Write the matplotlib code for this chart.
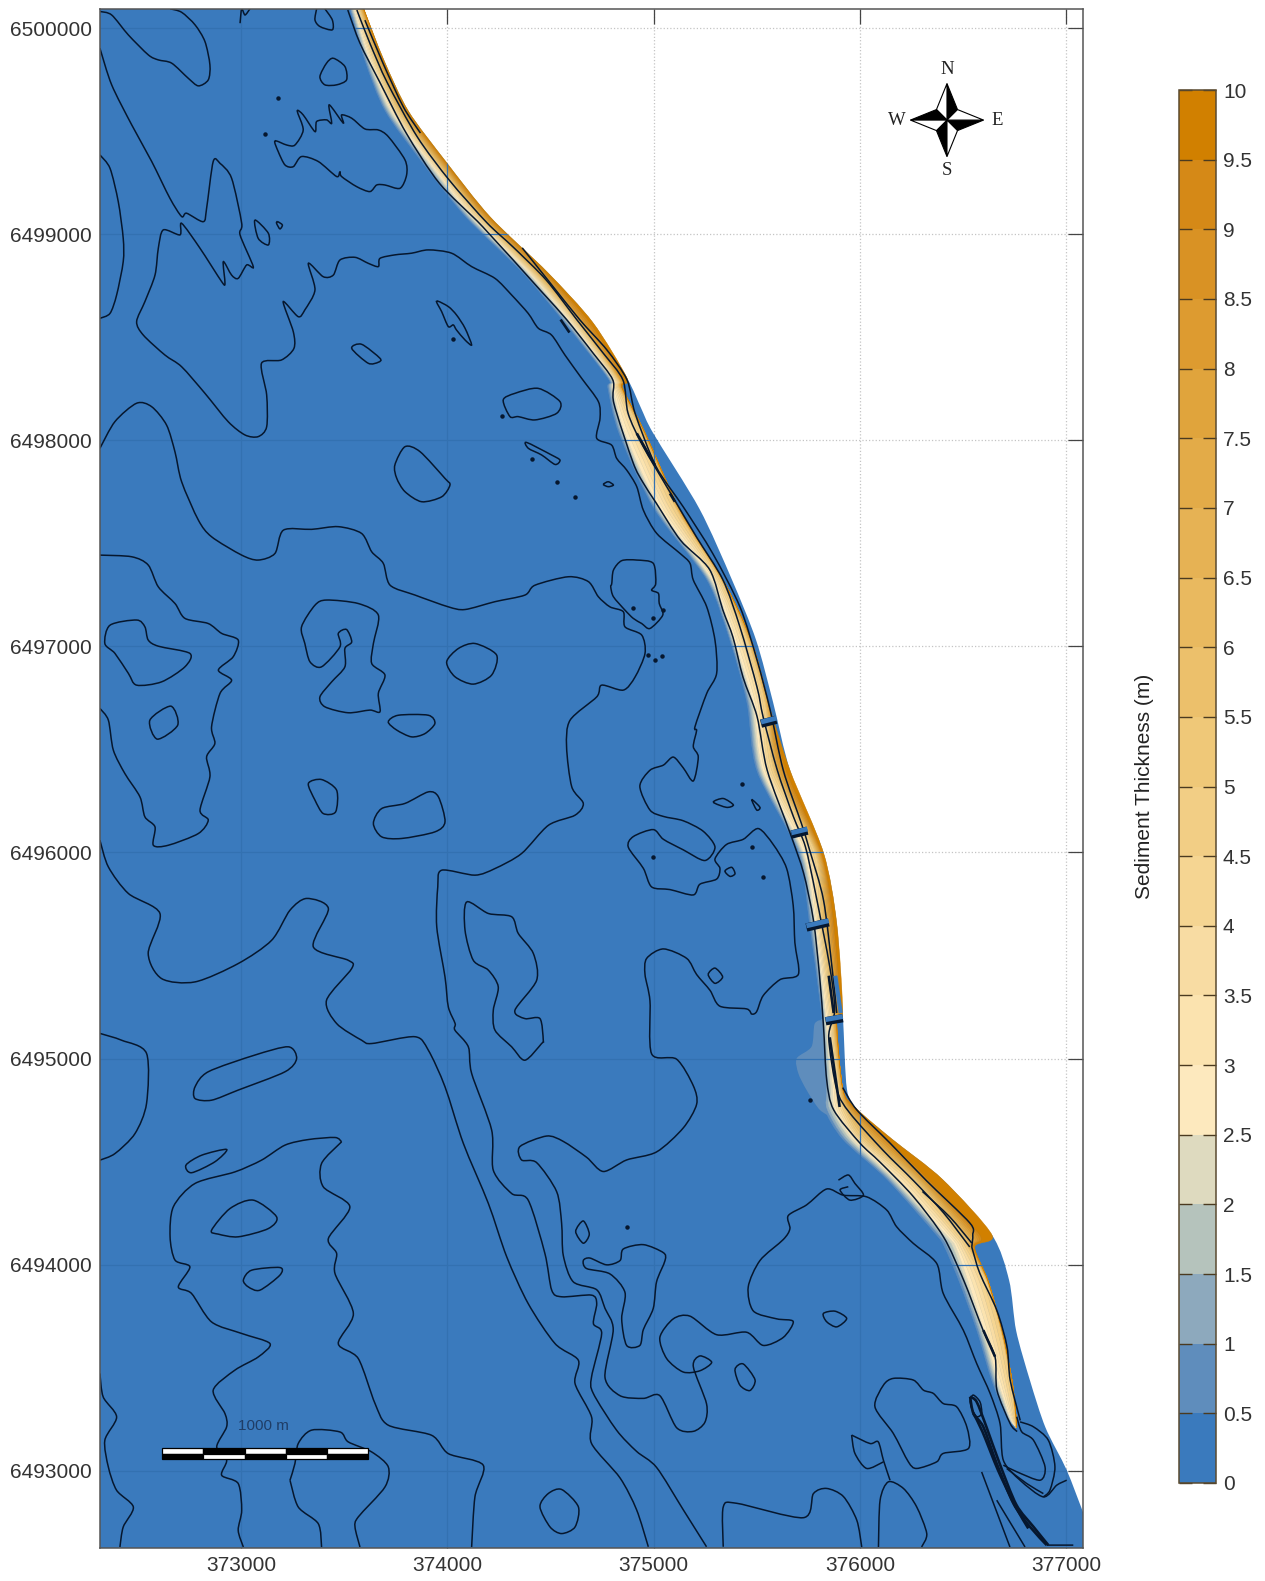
import numpy as np
from matplotlib import pyplot as plt
from matplotlib.colors import BoundaryNorm, ListedColormap
from matplotlib.cm import ScalarMappable
from matplotlib.patches import PathPatch, Polygon, Rectangle
from matplotlib.path import Path

plt.rcParams['font.family'] = ['Liberation Sans', 'DejaVu Sans']

# map coordinates below are metres east of E0 / north of N0
E0 = 372000
N0 = 6490000

x_ticks = [373000, 374000, 375000, 376000, 377000]
y_ticks = [6493000, 6494000, 6495000, 6496000, 6497000, 6498000, 6499000, 6500000]

cbar_levels = [0, 0.5, 1, 1.5, 2, 2.5, 3, 3.5, 4, 4.5, 5, 5.5, 6, 6.5, 7, 7.5, 8, 8.5, 9, 9.5, 10]
cbar_labels = ['0', '0.5', '1', '1.5', '2', '2.5', '3', '3.5', '4', '4.5', '5', '5.5', '6', '6.5',
               '7', '7.5', '8', '8.5', '9', '9.5', '10']
cbar_colors = ['#3A7ABD', '#5F8DBC', '#8DA9BD', '#B5C3BC', '#DEDABF', '#FDE9BE', '#FBE3AF', '#F8DCA3',
               '#F5D592', '#F2CE85', '#EFC878', '#ECC06B', '#E9B95F', '#E6B254', '#E3AB48', '#E0A43C',
               '#DD9B30', '#D99224', '#D58917', '#D18000']

# model domain, east side follows the shoreline
coast = [(1596, 10093), (1694, 9843), (1811, 9599), (1992, 9354), (2207, 9085), (2485, 8816), (2705, 8572),
         (2871, 8302), (2939, 8156), (2998, 8034), (3222, 7667), (3379, 7324), (3496, 7031), (3579, 6727),
         (3662, 6395), (3823, 5998), (3887, 5656), (3916, 5220), (3936, 4854), (3984, 4756), (4155, 4609),
         (4400, 4413), (4639, 4144), (4722, 3924), (4756, 3680), (4824, 3435), (4898, 3210), (5000, 3005),
         (5080, 2799)]
domain_corners = [(5080, 2625), (317, 2625), (317, 10093)]

# sediment band edges along the shore, thickness 0.5, 2.5, 5, 8, 9.5, 10 m
band_levels = [0.5, 2.5, 5, 8, 9.5, 10]
band_n = [10093, 9843, 9599, 9354, 9085, 8816, 8572, 8302, 8254, 8034, 7667, 7324, 7031, 6727, 6395, 5998, 5656,
          5220, 5172, 4854, 4756, 4609, 4413, 4144, 4086, 3924, 3680, 3435, 3259, 3210]
band_05 = [1528, 1601, 1699, 1875, 2089, 2363, 2568, 2778, 2778, 2832, 3003, 3257, 3369, 3452, 3501, 3701, 3755,
           3813, 3813, 3828, 3828, 3916, 4131, 4370, 4409, 4478, 4566, 4639, 4712, 4756]
band_25 = [1547, 1625, 1728, 1909, 2119, 2392, 2597, 2798, 2803, 2861, 3032, 3281, 3389, 3481, 3530, 3726, 3784,
           3833, 3838, 3867, 3877, 3965, 4170, 4419, 4463, 4522, 4600, 4668, 4727, 4756]
band_50 = [1577, 1655, 1762, 1943, 2158, 2422, 2631, 2822, 2832, 2945, 3110, 3325, 3455, 3540, 3584, 3784, 3813,
           3867, 3867, 3901, 3926, 4014, 4258, 4483, 4522, 4612, 4682, 4730, 4752, 4756]
band_80 = [1591, 1679, 1791, 1972, 2182, 2451, 2656, 2837, 2847, 2959, 3125, 3335, 3472, 3555, 3613, 3804, 3853,
           3887, 3882, 3916, 3955, 4092, 4302, 4546, 4541, 4619, 4688, 4737, 4756, 4756]
band_95 = [1596, 1689, 1806, 1987, 2202, 2475, 2690, 2856, 2847, 2959, 3125, 3335, 3472, 3555, 3643, 3813, 3872,
           3906, 3887, 3916, 3975, 4131, 4331, 4580, 4551, 4619, 4688, 4737, 4756, 4756]
band_100 = [1596, 1694, 1811, 1992, 2207, 2485, 2705, 2871, 2851, 2959, 3125, 3335, 3472, 3555, 3662, 3823, 3887,
            3916, 3887, 3916, 3984, 4155, 4400, 4639, 4556, 4619, 4688, 4737, 4756, 4756]

# pale plume by the big groin
plume = [(3693, 5001), (3765, 5058), (3781, 5171), (3830, 5155), (3846, 4831), (3878, 4718), (3806, 4750),
         (3741, 4847), (3701, 4928), (3693, 5001)]

# contours near the shore
shore_1 = [(1518, 10088), (1577, 9927), (1674, 9736), (1801, 9491), (1962, 9247), (2172, 9036), (2451, 8728),
           (2578, 8586), (2705, 8425), (2802, 8293), (2807, 8180), (2900, 7892), (2949, 7794), (3012, 7696),
           (3130, 7515), (3271, 7373), (3335, 7177), (3384, 7045), (3433, 6850), (3501, 6659), (3550, 6399),
           (3662, 6091), (3726, 5901), (3774, 5671), (3804, 5397), (3823, 5152), (3838, 4898), (3872, 4751),
           (4000, 4589), (4097, 4497), (4258, 4330), (4404, 4135), (4502, 3924), (4595, 3684), (4654, 3552),
           (4663, 3391), (4727, 3229), (4761, 3190)]
shore_2 = [(1562, 10088), (1625, 9927), (1709, 9736), (1855, 9472), (2011, 9261), (2192, 9056), (2319, 8938),
           (2480, 8777), (2627, 8586), (2754, 8425), (2851, 8293), (2876, 8131), (2949, 7970), (3081, 7745),
           (3208, 7530), (3335, 7324), (3418, 7094), (3501, 6801), (3530, 6659), (3599, 6399), (3677, 6174),
           (3735, 6028), (3784, 5803), (3853, 5446), (3877, 5235), (3848, 5103), (3887, 4849), (3950, 4736),
           (4111, 4555), (4258, 4408), (4404, 4252), (4531, 4086)]
shore_3 = [(1601, 10039), (1689, 9829), (1787, 9618), (1870, 9491)]
shore_4 = [(2363, 8934), (2500, 8762), (2641, 8586), (2773, 8439), (2871, 8293), (2910, 8131), (3012, 7872),
           (3144, 7676), (3286, 7451), (3418, 7192), (3501, 6933), (3564, 6693), (3628, 6399), (3716, 6140),
           (3755, 6013), (3823, 5768), (3867, 5416), (3887, 5221)]
shore_5 = [(3916, 4859), (3984, 4751), (4146, 4589), (4321, 4408), (4531, 4203), (4546, 4144), (4541, 4086)]
shore_6 = [(4541, 4086), (4580, 3958), (4663, 3777), (4712, 3601), (4727, 3440), (4776, 3244)]
shore_7 = [(4302, 4355), (4434, 4232), (4541, 4105)]

# offshore contours, north west part
wedge_nw = [(317, 10081), (374, 10064), (455, 9967), (552, 9870), (600, 9846), (665, 9830), (745, 9757), (794, 9720),
            (842, 9749), (850, 9822), (826, 9935), (778, 10016), (713, 10077), (657, 10094)]
long_north = [(317, 9903), (374, 9725), (471, 9531), (568, 9353), (656, 9175), (713, 9086), (737, 9102), (818, 9061),
              (834, 9126), (866, 9353), (899, 9344), (955, 9272), (1004, 9053), (996, 8997), (1060, 8843),
              (1028, 8851), (987, 8786), (955, 8802), (915, 8867), (923, 8762), (907, 8770), (802, 8932), (713, 9053),
              (705, 8997), (624, 9021), (600, 8932), (584, 8802), (535, 8673), (495, 8576), (527, 8511), (632, 8414),
              (713, 8357), (826, 8228), (939, 8090), (1020, 8026), (1084, 8018), (1125, 8066), (1125, 8220),
              (1100, 8374), (1197, 8390), (1257, 8446), (1254, 8527), (1205, 8673), (1278, 8600), (1310, 8633),
              (1359, 8730), (1327, 8859), (1399, 8794), (1448, 8802), (1480, 8875), (1553, 8888), (1617, 8859),
              (1666, 8843), (1674, 8883), (1747, 8900), (1827, 8908), (1908, 8924), (2021, 8908), (2118, 8843),
              (2231, 8786), (2312, 8705), (2392, 8616), (2441, 8544), (2505, 8511), (2570, 8414), (2651, 8301),
              (2732, 8188), (2740, 8107), (2724, 8010), (2796, 7977), (2821, 7912), (2869, 7856), (2918, 7775),
              (2950, 7661), (3015, 7548), (3128, 7451), (3176, 7403), (3192, 7322), (3257, 7192), (3297, 7030),
              (3305, 6869), (3257, 6772), (3200, 6610), (3208, 6592), (3192, 6514), (3216, 6463), (3192, 6347),
              (3143, 6411), (3095, 6463), (3047, 6424), (2982, 6399), (2933, 6321), (2982, 6206), (3047, 6175),
              (3143, 6154), (3240, 6103), (3297, 6026), (3248, 5961), (3143, 6013), (3047, 6064), (2998, 6111),
              (2901, 6077), (2877, 6026), (2950, 5923), (2990, 5833), (3079, 5820), (3192, 5794), (3224, 5846),
              (3305, 5871), (3321, 5923), (3297, 5969), (3353, 6039), (3434, 6064), (3507, 6116), (3579, 6039),
              (3644, 5923), (3676, 5743), (3684, 5563), (3701, 5409), (3612, 5383), (3531, 5306), (3499, 5228),
              (3475, 5216), (3450, 5241), (3321, 5254), (3273, 5331), (3208, 5408), (3160, 5486), (3047, 5532),
              (2966, 5486), (2958, 5408), (2982, 5280), (2990, 5023), (3111, 4997), (3192, 4868), (3208, 4778),
              (3143, 4663), (3014, 4547), (2869, 4508), (2756, 4452), (2675, 4521), (2562, 4598), (2481, 4624),
              (2352, 4573), (2360, 4508), (2433, 4495), (2530, 4354), (2554, 4200), (2562, 4045), (2610, 3917),
              (2724, 3878), (2764, 3788), (2804, 3685), (2764, 3454), (2837, 3364), (2950, 3351), (3030, 3364),
              (3111, 3209), (3192, 3191), (3248, 3235), (3256, 3325), (3192, 3505), (3224, 3557), (3281, 3526),
              (3224, 3485), (3143, 3479), (3063, 3544), (3030, 3647), (3095, 3737), (3176, 3750), (3305, 3660),
              (3450, 3672), (3531, 3608), (3628, 3647), (3676, 3724), (3596, 3737), (3483, 3775), (3458, 3891),
              (3515, 4020), (3628, 4122), (3660, 4174), (3652, 4238), (3741, 4290), (3838, 4367), (3919, 4337),
              (4032, 4329), (4129, 4265), (4177, 4184), (4258, 4103), (4371, 4006), (4403, 3860), (4500, 3682),
              (4565, 3520), (4630, 3375), (4678, 3229), (4694, 3051), (4775, 2954), (4888, 2873), (4953, 2930),
              (5001, 2954)]
blob_w_edge = [(317, 9385), (366, 9320), (406, 9158), (430, 8980), (430, 8867), (398, 8705), (366, 8616), (317, 8592)]
spike_top = [(996, 10024), (1004, 10094), (1020, 10064), (1044, 10094)]
blob_top = [(1367, 10094), (1359, 10040), (1383, 10008), (1443, 9992), (1443, 10040), (1407, 10094)]
blob_f = [(1448, 9854), (1504, 9814), (1512, 9749), (1464, 9725), (1407, 9725), (1383, 9765), (1415, 9830), (1448, 9854)]
blob_jagged = [(1165, 9453), (1222, 9433), (1262, 9433), (1302, 9506), (1273, 9598), (1302, 9579), (1359, 9498),
               (1367, 9547), (1415, 9555), (1440, 9539), (1428, 9628), (1496, 9539), (1488, 9579), (1537, 9563),
               (1601, 9511), (1666, 9506), (1714, 9474), (1795, 9361), (1803, 9288), (1771, 9223), (1698, 9239),
               (1658, 9239), (1625, 9207), (1561, 9231), (1488, 9280), (1480, 9304), (1464, 9280), (1375, 9353),
               (1294, 9377), (1254, 9328), (1214, 9336), (1181, 9401), (1165, 9453)]
diamond_1 = [(1068, 9069), (1133, 9005), (1133, 8948), (1084, 8980), (1068, 9069)]
diamond_2 = [(1178, 9061), (1201, 9045), (1189, 9026), (1173, 9053), (1178, 9061)]
lens = [(1948, 8676), (2005, 8649), (2045, 8608), (2086, 8544), (2118, 8463), (2086, 8487), (2045, 8535), (2029, 8560),
        (2005, 8552), (1973, 8624), (1948, 8676)]
rect_blob = [(1537, 8446), (1585, 8466), (1674, 8398), (1666, 8379), (1617, 8374), (1537, 8446)]
blob_e1 = [(2271, 8196), (2328, 8228), (2441, 8252), (2546, 8188), (2530, 8131), (2425, 8099), (2344, 8115), (2304, 8115),
           (2271, 8196)]
sliver_e = [(2384, 7990), (2505, 7929), (2546, 7904), (2522, 7883), (2457, 7929), (2393, 7961), (2384, 7990)]
oval_e = [(1746, 7880), (1795, 7969), (1868, 7945), (1989, 7815), (2013, 7783), (1973, 7726), (1876, 7702), (1795, 7751),
          (1755, 7816), (1746, 7880)]
bay_blob = [(2797, 7305), (2805, 7370), (2845, 7416), (2918, 7419), (2998, 7403), (3010, 7305), (2990, 7273), (3023, 7257),
            (3027, 7208), (3044, 7152), (2982, 7087), (2942, 7111), (2901, 7136), (2861, 7176), (2805, 7241), (2792, 7289),
            (2797, 7305)]
oval_small = [(2756, 7786), (2780, 7799), (2805, 7783), (2780, 7775), (2756, 7786)]

# long contours running to the south
mid_line = [(317, 7961), (390, 8091), (495, 8180), (568, 8163), (640, 8074), (681, 7943), (713, 7799), (794, 7613),
            (858, 7532), (1004, 7443), (1084, 7419), (1165, 7451), (1206, 7564), (1343, 7568), (1472, 7581),
            (1585, 7548), (1634, 7459), (1690, 7403), (1723, 7297), (1844, 7249), (2005, 7192), (2086, 7179),
            (2231, 7217), (2376, 7249), (2425, 7297), (2587, 7338), (2684, 7314), (2732, 7241), (2788, 7192),
            (2853, 7168), (2861, 7095), (2942, 7055), (2958, 6966), (2910, 6852), (2853, 6788), (2748, 6812),
            (2724, 6755), (2595, 6642), (2578, 6513), (2603, 6319), (2659, 6238), (2619, 6181), (2490, 6132),
            (2360, 5995), (2231, 5922), (2134, 5890), (1973, 5914), (1954, 5833), (1949, 5639), (1989, 5396),
            (2005, 5251), (2038, 5170), (2037, 5138), (2102, 5057), (2118, 4928), (2215, 4653), (2223, 4458),
            (2312, 4345), (2392, 4313), (2473, 4054), (2506, 3876), (2554, 3844), (2699, 3852), (2724, 3811),
            (2708, 3714), (2748, 3666), (2699, 3455), (2707, 3376), (2820, 3197), (2917, 3094), (3014, 3016),
            (3143, 2811), (3256, 2631)]
west_line = [(317, 6060), (358, 5930), (455, 5801), (608, 5704), (551, 5510), (616, 5388), (778, 5372), (987, 5461),
             (1149, 5574), (1238, 5720), (1319, 5777), (1424, 5728), (1351, 5542), (1520, 5477), (1537, 5437),
             (1415, 5283), (1464, 5170), (1585, 5089), (1634, 5073), (1843, 5106), (1908, 5041), (1989, 4863),
             (2078, 4588), (2199, 4297), (2288, 4038), (2392, 3811), (2522, 3617), (2635, 3536), (2619, 3423),
             (2699, 3261), (2699, 3132), (2837, 2965), (2917, 2811), (2974, 2631)]
blob_m = [(366, 7103), (495, 7128), (535, 7095), (551, 7031), (600, 7001), (753, 6966), (729, 6901), (616, 6828),
          (495, 6812), (455, 6869), (390, 6966), (341, 7014), (366, 7103)]
big_west = [(317, 7443), (471, 7435), (551, 7395), (600, 7289), (681, 7208), (729, 7136), (842, 7111), (907, 7063),
            (987, 7031), (963, 6950), (891, 6885), (955, 6836), (899, 6772), (858, 6610), (874, 6529), (834, 6464),
            (850, 6367), (802, 6205), (842, 6157), (794, 6092), (648, 6035), (576, 6035), (584, 6124), (535, 6173),
            (511, 6270), (438, 6383), (382, 6497), (358, 6642), (317, 6699)]
diamond_3 = [(559, 6642), (661, 6710), (694, 6618), (595, 6550), (559, 6642)]
horseshoe = [(1294, 7095), (1359, 7200), (1415, 7225), (1569, 7208), (1666, 7152), (1642, 7014), (1634, 6917), (1698, 6861),
             (1666, 6772), (1674, 6683), (1625, 6691), (1520, 6678), (1407, 6707), (1383, 6755), (1440, 6828),
             (1504, 6901), (1504, 6990), (1537, 7022), (1512, 7082), (1472, 7063), (1480, 6998), (1391, 6901),
             (1335, 6925), (1310, 7014), (1294, 7095)]
oval_q = [(1714, 6634), (1763, 6666), (1908, 6666), (1940, 6626), (1892, 6577), (1827, 6561), (1755, 6594), (1714, 6634)]
oval_r = [(1997, 6925), (2054, 6990), (2135, 7014), (2239, 6958), (2215, 6861), (2126, 6817), (2037, 6853), (1997, 6925)]
blob_s = [(1327, 6335), (1391, 6354), (1464, 6302), (1459, 6197), (1399, 6189), (1359, 6254), (1327, 6335)]
blob_t = [(1642, 6141), (1682, 6213), (1795, 6238), (1908, 6294), (1957, 6270), (1989, 6149), (1940, 6100), (1779, 6068),
          (1682, 6076), (1642, 6141)]
finger_u = [(2094, 5760), (2199, 5704), (2312, 5688), (2344, 5607), (2417, 5510), (2433, 5380), (2328, 5235), (2376, 5194),
            (2449, 5194), (2465, 5089), (2457, 5073), (2376, 4992), (2312, 5057), (2231, 5138), (2223, 5235),
            (2247, 5348), (2199, 5429), (2126, 5477), (2086, 5623), (2094, 5760)]
arc_w = [(317, 5122), (422, 5089), (543, 5025), (543, 4782), (487, 4636), (390, 4539), (317, 4507)]
oval_v = [(778, 4863), (842, 4936), (1068, 5017), (1230, 5057), (1270, 5000), (1214, 4936), (987, 4847), (858, 4798),
          (778, 4806), (778, 4863)]
sliver_w = [(734, 4483), (810, 4531), (931, 4559), (874, 4499), (761, 4446), (734, 4483)]
big_sw_a = [(1488, 4596), (1456, 4617), (1327, 4607), (1214, 4580), (1100, 4507), (971, 4450), (778, 4394), (673, 4281),
            (657, 4135), (681, 4022), (753, 3989), (697, 3892), (761, 3860), (858, 3722), (1004, 3666), (1141, 3617),
            (1084, 3552), (971, 3488), (866, 3391), (923, 3277), (931, 3213), (883, 3116), (931, 3051), (907, 2978),
            (987, 2938), (1004, 2808), (987, 2711), (1012, 2630)]
big_sw_b = [(1488, 4596), (1391, 4491), (1399, 4378), (1528, 4281), (1424, 4127), (1464, 4054), (1456, 3957), (1545, 3763),
            (1472, 3617), (1569, 3544), (1650, 3326), (1714, 3221), (1924, 3172), (2005, 3083), (2174, 3027),
            (2134, 2873), (2118, 2630)]
blob_y = [(858, 4167), (947, 4272), (1060, 4313), (1173, 4232), (1133, 4175), (987, 4135), (891, 4148), (858, 4167)]
blob_z = [(1012, 3925), (1052, 3973), (1189, 3986), (1189, 3949), (1092, 3876), (1036, 3892), (1012, 3925)]
under_bar_a = [(1238, 2954), (1262, 3035), (1278, 3132), (1343, 3197), (1480, 3188), (1520, 3140), (1634, 3091), (1714, 3019),
               (1698, 2921), (1569, 2776), (1553, 2727), (1577, 2630)]
under_bar_b = [(1238, 2954), (1278, 2824), (1375, 2743), (1391, 2630)]
left_bottom = [(317, 3472), (333, 3358), (398, 3261), (341, 3148), (358, 3018), (398, 2905), (479, 2824), (430, 2727),
               (414, 2630)]
oval_ac = [(2449, 2825), (2489, 2889), (2554, 2909), (2635, 2825), (2619, 2727), (2554, 2695), (2498, 2727), (2449, 2825)]
oval_ad = [(2622, 4161), (2659, 4212), (2688, 4148), (2659, 4104), (2622, 4161)]
finger_c = [(2659, 4020), (2691, 4032), (2772, 3999), (2837, 4020), (2853, 4076), (2950, 4097), (3047, 4058), (3055, 4020),
            (3014, 3917), (2998, 3788), (2950, 3685), (2933, 3608), (2869, 3608), (2845, 3737), (2861, 3865),
            (2788, 3955), (2675, 3981), (2659, 4020)]
bottom_c = [(3337, 2631), (3337, 2824), (3402, 2842), (3725, 2772), (3774, 2889), (3838, 2914), (3919, 2875), (3984, 2760),
            (4008, 2630)]
oval_1 = [(3264, 5408), (3297, 5439), (3334, 5396), (3297, 5365), (3264, 5408)]
oval_2 = [(3345, 5910), (3378, 5928), (3394, 5897), (3370, 5884), (3345, 5910)]
oval_3 = [(3289, 6244), (3337, 6262), (3386, 6231), (3353, 6219), (3289, 6244)]
oval_4 = [(3475, 6257), (3515, 6219), (3499, 6206), (3475, 6257)]
oval_5 = [(3394, 3492), (3434, 3518), (3491, 3441), (3466, 3389), (3418, 3415), (3394, 3492)]
oval_6 = [(3822, 3763), (3879, 3774), (3935, 3739), (3887, 3698), (3838, 3723), (3822, 3763)]
squiggle = [(3895, 4410), (3943, 4435), (3975, 4394), (4016, 4337), (3951, 4313), (3903, 4362), (3943, 4378)]

# south end
south_b = [(4089, 2630), (4097, 2857), (4137, 2946), (4210, 2914), (4274, 2825), (4323, 2695), (4298, 2630)]
south_c = [(3959, 3173), (4048, 3132), (4088, 3140), (4113, 3051), (4145, 2954)]
south_d = [(3959, 3173), (3975, 3084), (4032, 3011), (4113, 3043)]
south_oval = [(4072, 3310), (4113, 3415), (4161, 3448), (4258, 3440), (4307, 3391), (4355, 3375), (4403, 3326), (4468, 3310),
              (4517, 3213), (4525, 3108), (4403, 3084), (4371, 3043), (4274, 3011), (4234, 3043), (4161, 3181),
              (4072, 3310)]
lobe_a = [(4759, 3262), (4783, 3189), (4840, 3148), (4896, 3019), (4872, 2954), (4759, 2995), (4694, 3027)]
lobe_b = [(4775, 3237), (4840, 3213), (4912, 3148), (4944, 3019), (4920, 2906), (4888, 2873)]
lobe_c = [(4710, 3011), (4807, 2938), (4888, 2889)]
channel_a = [(4533, 3359), (4549, 3278), (4597, 3213), (4662, 3035), (4743, 2841), (4823, 2728), (4904, 2639)]
channel_b = [(4533, 3359), (4565, 3334), (4612, 3213), (4676, 3035), (4757, 2835), (4840, 2728), (4912, 2639)]
channel_c = [(4549, 3278), (4593, 3189), (4668, 3003), (4748, 2835), (4815, 2720)]
channel_curl = [(4533, 3342), (4549, 3367), (4581, 3334), (4589, 3278), (4565, 3262), (4541, 3302), (4533, 3342)]
channel_d = [(4589, 2994), (4726, 2630)]
channel_e = [(4662, 2857), (4799, 2630)]
channel_f = [(4904, 2639), (5033, 2639)]

contours = [shore_1, shore_2, shore_3, shore_4, shore_5, shore_6, shore_7, wedge_nw, long_north, blob_w_edge, spike_top,
            blob_top, blob_f, blob_jagged, diamond_1, diamond_2, lens, rect_blob, blob_e1, sliver_e, oval_e, bay_blob,
            oval_small, mid_line, west_line, blob_m, big_west, diamond_3, horseshoe, oval_q, oval_r, blob_s, blob_t,
            finger_u, arc_w, oval_v, sliver_w, big_sw_a, big_sw_b, blob_y, blob_z, under_bar_a, under_bar_b, left_bottom,
            oval_ac, oval_ad, finger_c, bottom_c, oval_1, oval_2, oval_3, oval_4, oval_5, oval_6, squiggle, south_b,
            south_c, south_d, south_oval, lobe_a, lobe_b, lobe_c, channel_curl, channel_d, channel_e, channel_f]
thick_lines = [channel_a, channel_b, channel_c,
               [(2549, 8586), (2592, 8523)], [(3848, 5402), (3872, 5221)], [(3853, 5103), (3901, 4765)],
               [(2918, 8034), (3006, 7880)], [(3079, 7742), (3103, 7702)], [(4597, 3682), (4654, 3553)]]

dots_e = [1117, 1178, 2029, 2530, 2619, 2412, 2263, 2998, 3757, 3426, 3475, 3531, 2869, 2901, 2998, 3047, 2974,
          3039, 3006]
dots_n = [9485, 9660, 8490, 7799, 7726, 7909, 8120, 5979, 4800, 6334, 6026, 5879, 4182, 7184, 7136, 7176, 6957,
          6953, 6933]

# groins, blue with dark edge
groin_e = [(3520, 3594), (3667, 3745), (3740, 3848), (3833, 3916)]
groin_n = [(6625, 6644), (6087, 6106), (5636, 5661), (5181, 5196)]
blue_patch_e = [3880, 3906]
blue_patch_n = [5402, 5221]

# compass, one arm = tip then the two shoulders around it
compass_e = 4421
compass_n = 9554
compass_tip = 177
compass_inner = 51
compass_letters = ['N', 'E', 'S', 'W']

# scale bar
bar_left = 618
bar_segment = 200
bar_count = 5
bar_top = 3110
bar_bottom = 3057


def absolute(points):
    pts = np.array(points, dtype=float)
    return pts[:, 0] + E0, pts[:, 1] + N0


def curve_segments(x, y):
    """Bezier pieces through the read points, so contours are not drawn with corners"""
    n = len(x)
    closed = n > 3 and x[0] == x[-1] and y[0] == y[-1]
    verts = []
    tension = 0.14
    for i in range(n - 1):
        if closed:
            before = (i - 1) % (n - 1)
            after = (i + 2) % (n - 1)
        else:
            before = max(i - 1, 0)
            after = min(i + 2, n - 1)
        verts.append((x[i] + (x[i + 1] - x[before]) * tension, y[i] + (y[i + 1] - y[before]) * tension))
        verts.append((x[i + 1] - (x[after] - x[i]) * tension, y[i + 1] - (y[after] - y[i]) * tension))
        verts.append((x[i + 1], y[i + 1]))
    return verts, [Path.CURVE4] * len(verts)


def curve_path(x, y):
    verts, codes = curve_segments(x, y)
    return Path([(x[0], y[0])] + verts, [Path.MOVETO] + codes)


def band_path(x_west, x_east, y):
    west_verts, west_codes = curve_segments(x_west, y)
    east_verts, east_codes = curve_segments(x_east[::-1], y[::-1])
    verts = [(x_west[0], y[0])] + west_verts + [(x_east[-1], y[-1])] + east_verts + [(x_west[0], y[0])]
    codes = [Path.MOVETO] + west_codes + [Path.LINETO] + east_codes + [Path.CLOSEPOLY]
    return Path(verts, codes)


fig = plt.figure(figsize=(12.65, 15.81), dpi=100, facecolor='white')
ax = fig.add_axes([100 / 1265, 1 - 1548 / 1581, 983 / 1265, 1539 / 1581])
ax.set_xlim(E0 + 317.5, E0 + 5080)
ax.set_ylim(N0 + 2625, N0 + 10093)
ax.set_xticks(x_ticks)
ax.set_yticks(y_ticks)
ax.set_xticklabels([str(v) for v in x_ticks])
ax.set_yticklabels([str(v) for v in y_ticks])
ax.tick_params(direction='in', length=11, width=0.9, color='#444444', labelcolor='#333333', labelsize=15,
               top=True, right=True, pad=6)
ax.grid(True, color='#c4c4c4', linestyle=':', linewidth=0.9, zorder=0)
ax.set_axisbelow(True)
for spine in ax.spines.values():
    spine.set_color('#555555')
    spine.set_linewidth(1.1)
    spine.set_zorder(20)

# domain
cx, cy = absolute(coast)
coast_verts, coast_codes = curve_segments(cx, cy)
corner_x, corner_y = absolute(domain_corners)
domain_path = Path([(cx[0], cy[0])] + coast_verts + list(zip(corner_x, corner_y)) + [(cx[0], cy[0])],
                   [Path.MOVETO] + coast_codes + [Path.LINETO] * len(corner_x) + [Path.CLOSEPOLY])
domain = PathPatch(domain_path, facecolor=cbar_colors[0], edgecolor='none', zorder=2)
ax.add_patch(domain)

# sediment bands
px, py = absolute(plume)
ax.add_patch(PathPatch(curve_path(px, py), facecolor=cbar_colors[1], edgecolor='none', zorder=2.5))
edges = np.array([band_05, band_25, band_50, band_80, band_95, band_100], dtype=float)
north = np.array(band_n, dtype=float) + N0
for i in range(1, len(cbar_colors)):
    lo = cbar_levels[i]
    hi = cbar_levels[i + 1]
    x_lo = np.array([np.interp(lo, band_levels, edges[:, k]) for k in range(edges.shape[1])]) + E0
    x_hi = np.array([np.interp(hi, band_levels, edges[:, k]) for k in range(edges.shape[1])]) + E0
    ax.add_patch(PathPatch(band_path(x_lo, x_hi, north), facecolor=cbar_colors[i], edgecolor=cbar_colors[i],
                           linewidth=0.3, zorder=3))

# grid shows faintly through the blue
for v in x_ticks:
    ln = ax.axvline(v, color='#3371b1', linewidth=0.9, zorder=3.5)
    ln.set_clip_path(domain)
for v in y_ticks:
    ln = ax.axhline(v, color='#3371b1', linewidth=0.9, zorder=3.5)
    ln.set_clip_path(domain)

# contours
for line in contours:
    lx, ly = absolute(line)
    ax.add_patch(PathPatch(curve_path(lx, ly), fill=False, edgecolor='#06172e', linewidth=1.1, zorder=4))
for line in thick_lines:
    lx, ly = absolute(line)
    ax.add_patch(PathPatch(curve_path(lx, ly), fill=False, edgecolor='#06172e', linewidth=1.9, zorder=4))
ax.plot(np.array(dots_e) + E0, np.array(dots_n) + N0, 'o', color='#06172e', markersize=2.2, zorder=4)

# groins
for ge, gn in zip(groin_e, groin_n):
    ax.plot(np.array(ge) + E0, np.array(gn) + N0, color='#06172e', linewidth=6, solid_capstyle='butt', zorder=5)
    ax.plot(np.array(ge) + E0, np.array(gn) + N0 + 8, color=cbar_colors[0], linewidth=3.5, solid_capstyle='butt', zorder=5.1)
ax.plot(np.array(blue_patch_e) + E0, np.array(blue_patch_n) + N0, color=cbar_colors[0], linewidth=3,
        solid_capstyle='butt', zorder=5)

# scale bar
for i in range(bar_count):
    left = E0 + bar_left + i * bar_segment
    mid = N0 + (bar_top + bar_bottom) / 2
    ax.add_patch(Rectangle((left, mid), bar_segment, N0 + bar_top - mid, facecolor='white' if i % 2 == 0 else 'black',
                           edgecolor='black', linewidth=0.9, zorder=6))
    ax.add_patch(Rectangle((left, N0 + bar_bottom), bar_segment, mid - N0 - bar_bottom,
                           facecolor='black' if i % 2 == 0 else 'white', edgecolor='black', linewidth=0.9, zorder=6))
ax.text(E0 + 1107, N0 + 3217, '1000 m', fontsize=11, color='#1f3d66', ha='center', va='center', zorder=6)

# compass
for k, (dx, dy) in enumerate([(0, 1), (1, 0), (0, -1), (-1, 0)]):
    tip = (compass_e + dx * compass_tip + E0, compass_n + dy * compass_tip + N0)
    center = (compass_e + E0, compass_n + N0)
    side_a = (center[0] + (dx + dy) * compass_inner, center[1] + (dy - dx) * compass_inner)
    side_b = (center[0] + (dx - dy) * compass_inner, center[1] + (dy + dx) * compass_inner)
    ax.add_patch(Polygon([center, tip, side_a], closed=True, facecolor='black', edgecolor='black', linewidth=0.8, zorder=7))
    ax.add_patch(Polygon([center, tip, side_b], closed=True, facecolor='white', edgecolor='black', linewidth=0.8, zorder=7))
    ax.text(center[0] + dx * 245, center[1] + dy * 245, compass_letters[k], family='Liberation Serif', fontsize=13.5,
            color='#222222', ha='center', va='center', zorder=7)

# colorbar
cax = fig.add_axes([1179 / 1265, 1 - 1483 / 1581, 37 / 1265, 1393 / 1581])
cmap = ListedColormap(cbar_colors)
norm = BoundaryNorm(cbar_levels, cmap.N)
cb = fig.colorbar(ScalarMappable(norm=norm, cmap=cmap), cax=cax, spacing='proportional', ticks=cbar_levels)
cb.set_ticklabels(cbar_labels)
cb.outline.set_edgecolor('#5a4a30')
cb.outline.set_linewidth(1.1)
cax.tick_params(direction='in', length=9.5, width=1.0, color='#4a3a20', labelcolor='#333333', labelsize=15,
                left=True, right=True, pad=5)
cax.minorticks_off()
cax.yaxis.set_label_position('left')
cax.set_ylabel('Sediment Thickness (m)', fontsize=15, color='#222222', labelpad=18)

fig.savefig('out.png', dpi=100)
